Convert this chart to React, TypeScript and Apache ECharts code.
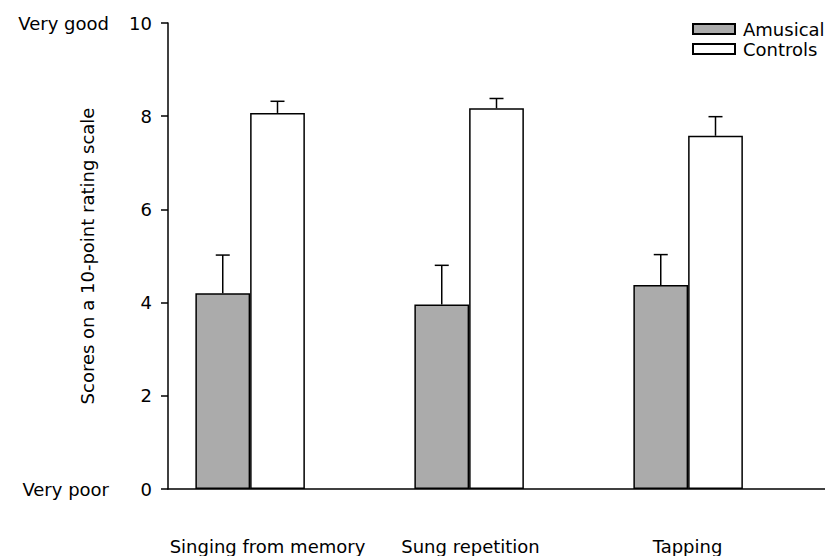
import React, { useEffect, useRef } from "react";
import * as echarts from "echarts";

const categories = ["Singing from memory", "Sung repetition", "Tapping"];
const amusicalMeans = [4.2, 3.96, 4.38];
const amusicalErrors = [0.82, 0.84, 0.65];
const controlsMeans = [8.07, 8.17, 7.58];
const controlsErrors = [0.25, 0.21, 0.41];
const yTicks = [0, 2, 4, 6, 8, 10];
const anchorLabels: Record<number, string> = { 10: "Very good", 0: "Very poor" };

const labelShift = [20, 52, 56];
const FONT = "DejaVu Sans";

export default function App() {
  const ref = useRef<HTMLDivElement>(null);
  useEffect(() => {
    if (!ref.current) return;
    const chart = echarts.init(ref.current, null, { renderer: "svg" });

    const errData = (means: number[], errs: number[], slot: number) =>
      means.map((m, i) => [i, m, errs[i], slot]);

    const renderErr = (params: any, api: any) => {
      const i = api.value(0);
      const m = api.value(1);
      const e = api.value(2);
      const slot = api.value(3);
      const band = api.size([1, 0])[0];
      const base = api.coord([i, m]);
      const top = api.coord([i, m + e]);
      const x = base[0] + slot * band * 0.25;
      const style = { stroke: "#000", lineWidth: 1.5 };
      return {
        type: "group",
        children: [
          { type: "line", shape: { x1: x, y1: base[1], x2: x, y2: top[1] }, style },
          { type: "line", shape: { x1: x - 7, y1: top[1], x2: x + 7, y2: top[1] }, style },
        ],
      };
    };

    chart.setOption({
      animation: false,
      grid: { left: 168, right: 0, top: 23, bottom: 67 },
      legend: {
        data: ["Amusical", "Controls"],
        orient: "vertical",
        left: 687,
        top: 15,
        itemWidth: 42,
        itemHeight: 10,
        itemGap: 2,
        icon: "rect",
        textStyle: { fontFamily: FONT, fontSize: 18, color: "#000", padding: [0, 0, 0, 3] },
      },
      xAxis: {
        type: "category",
        data: categories.map((c, i) => ({
          value: c,
          textStyle: { padding: [0, labelShift[i], 0, 0] },
        })),
        axisLine: { lineStyle: { color: "#000", width: 1.5 } },
        axisTick: { show: false },
        axisLabel: { fontFamily: FONT, fontSize: 18, color: "#000", margin: 48, interval: 0 },
      },
      yAxis: [
        {
          type: "value",
          min: 0,
          max: 10,
          interval: 2,
          name: "Scores on a 10-point rating scale",
          nameLocation: "middle",
          nameGap: 72,
          nameTextStyle: { fontFamily: FONT, fontSize: 18, color: "#000" },
          axisLine: { show: true, lineStyle: { color: "#000", width: 1.5 } },
          axisTick: { show: true, length: 7, lineStyle: { color: "#000", width: 1.5 } },
          axisLabel: {
            fontFamily: FONT,
            fontSize: 18,
            color: "#000",
            margin: 16,
            formatter: (v: number) => (yTicks.includes(v) ? String(v) : ""),
          },
          splitLine: { show: false },
        },
        {
          type: "value",
          position: "left",
          min: 0,
          max: 10,
          interval: 10,
          offset: 51,
          axisLine: { show: false },
          axisTick: { show: false },
          splitLine: { show: false },
          axisLabel: {
            fontFamily: FONT,
            fontSize: 18,
            color: "#000",
            margin: 8,
            formatter: (v: number) => anchorLabels[v] ?? "",
          },
        },
      ],
      series: [
        {
          name: "Amusical",
          type: "bar",
          data: amusicalMeans,
          barWidth: "25%",
          barGap: "0%",
          itemStyle: { color: "#ababab", borderColor: "#000", borderWidth: 1.5 },
        },
        {
          name: "Controls",
          type: "bar",
          data: controlsMeans,
          barWidth: "25%",
          barGap: "0%",
          itemStyle: { color: "#fff", borderColor: "#000", borderWidth: 1.5 },
        },
        {
          name: "spacer",
          type: "bar",
          data: [],
          barWidth: "25%",
          barGap: "0%",
        },
        {
          name: "AmusicalErr",
          type: "custom",
          renderItem: renderErr,
          data: errData(amusicalMeans, amusicalErrors, -1),
          z: 1,
        },
        {
          name: "ControlsErr",
          type: "custom",
          renderItem: renderErr,
          data: errData(controlsMeans, controlsErrors, 0),
          z: 1,
        },
      ],
    });
    return () => chart.dispose();
  }, []);
  return (
    <div
      ref={ref}
      style={{ position: "absolute", left: 0, top: 0, width: 825, height: 556 }}
    />
  );
}
